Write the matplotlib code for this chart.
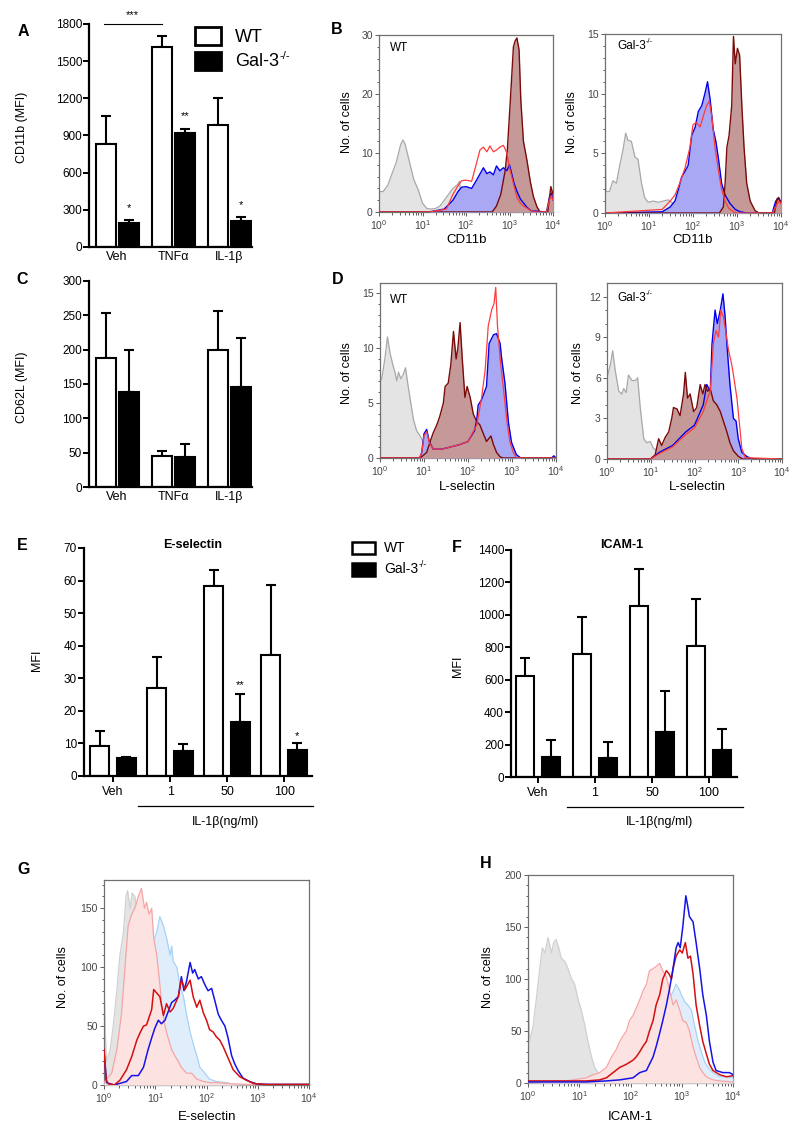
import numpy as np
import matplotlib
matplotlib.use('Agg')
import matplotlib.pyplot as plt
from matplotlib.patches import Rectangle
from matplotlib.text import Annotation
from matplotlib.ticker import LogLocator, NullFormatter

plt.rcParams['font.family'] = ['Liberation Sans', 'DejaVu Sans']
plt.rcParams['mathtext.fontset'] = 'custom'
plt.rcParams['mathtext.rm'] = 'Liberation Sans'
plt.rcParams['mathtext.it'] = 'Liberation Sans:italic'
plt.rcParams['mathtext.bf'] = 'Liberation Sans:bold'

# ---------------- bar chart data ----------------
groups_3 = ['Veh', 'TNFα', 'IL-1β']
a_wt = [830, 1617, 983]
a_wt_err = [226, 86, 216]
a_ko = [194, 921, 210]
a_ko_err = [22, 33, 32]

c_wt = [188, 45, 199]
c_wt_err = [66, 7, 58]
c_ko = [138, 44, 145]
c_ko_err = [62, 18, 72]

groups_4 = ['Veh', '1', '50', '100']
e_wt = [9.2, 27.0, 58.4, 37.1]
e_wt_err = [4.6, 9.4, 4.9, 21.5]
e_ko = [5.4, 7.7, 16.6, 8.0]
e_ko_err = [0.5, 2.0, 8.5, 2.0]

f_wt = [625, 758, 1057, 809]
f_wt_err = [110, 229, 227, 287]
f_ko = [123, 119, 279, 164]
f_ko_err = [106, 94, 253, 133]

# ---------------- histogram data (x in log10 units) ----------------
# B, WT
bwt_gray_x = [0, 0.1, 0.2, 0.3, 0.4, 0.5, 0.55, 0.6, 0.7, 0.8, 0.9, 1.0, 1.1, 1.2, 1.3, 1.4, 1.5, 1.6, 1.7, 1.8, 1.85, 1.9, 2.0, 4.0]
bwt_gray_y = [3.4, 3.5, 4.5, 6.5, 8.5, 11.5, 12.2, 11.5, 8.5, 5.5, 3.8, 1.5, 0.6, 0.5, 0.6, 1.0, 2.0, 3.0, 4.0, 4.6, 5.2, 1.5, 0.2, 0]
bwt_blue_x = [0, 1.15, 1.5, 1.7, 1.82, 1.9, 2.0, 2.13, 2.25, 2.4, 2.48, 2.55, 2.63, 2.7, 2.78, 2.86, 2.94, 3.0, 3.1, 3.17, 3.25, 3.4, 3.5, 3.85, 3.92, 3.96, 4.0]
bwt_blue_y = [0, 0, 0.5, 2.0, 3.5, 4.2, 4.3, 4.0, 5.5, 7.5, 6.5, 6.8, 6.3, 7.8, 7.0, 7.5, 7.0, 8.0, 5.0, 3.5, 2.2, 0.8, 0.2, 0, 2.5, 3.2, 2.0]
bwt_red_x = [0, 1.15, 1.55, 1.7, 1.82, 1.9, 2.0, 2.13, 2.25, 2.32, 2.4, 2.48, 2.55, 2.63, 2.7, 2.78, 2.86, 2.94, 3.0, 3.1, 3.17, 3.25, 3.32, 3.48, 3.6, 3.85, 3.92, 3.96, 4.0]
bwt_red_y = [0, 0, 0.5, 3.0, 4.5, 5.3, 5.4, 5.2, 8.5, 10.5, 11.0, 10.2, 11.2, 10.2, 10.5, 11.0, 11.3, 10.0, 7.5, 4.5, 2.5, 1.5, 1.0, 0.3, 0, 0, 2.0, 2.8, 2.0]
bwt_dark_x = [0, 2.6, 2.7, 2.8, 2.9, 2.95, 3.02, 3.09, 3.13, 3.17, 3.22, 3.26, 3.32, 3.4, 3.48, 3.55, 3.63, 3.7, 3.88, 3.95, 4.0]
bwt_dark_y = [0, 0, 1, 3, 7, 10.5, 19, 28, 29, 29.5, 27.5, 19, 12, 8.8, 5.1, 2.6, 0.9, 0, 0, 4.3, 3.0]

# B, Gal-3-/-
bko_gray_x = [0, 0.02, 0.1, 0.18, 0.26, 0.33, 0.41, 0.47, 0.52, 0.6, 0.68, 0.75, 0.83, 0.9, 0.98, 1.1, 1.21, 1.32, 1.44, 1.55, 1.67, 1.8, 4.0]
bko_gray_y = [8.6, 1.8, 1.8, 2.7, 2.5, 3.9, 5.3, 6.7, 6.1, 6.0, 4.7, 4.5, 2.5, 1.3, 0.9, 1.0, 0.9, 1.0, 1.1, 0.8, 0.2, 0, 0]
bko_blue_x = [0, 1.3, 1.48, 1.59, 1.67, 1.74, 1.82, 1.89, 1.97, 2.05, 2.12, 2.2, 2.27, 2.33, 2.39, 2.46, 2.52, 2.58, 2.65, 2.73, 2.84, 2.96, 3.07, 3.22, 3.8, 3.88, 3.95, 4.0]
bko_blue_y = [0, 0.1, 0.5, 1.0, 2.0, 3.0, 3.5, 4.0, 6.5, 7.2, 8.5, 9.0, 10.0, 11.0, 9.5, 7.0, 6.0, 4.5, 2.5, 1.5, 0.8, 0.3, 0.1, 0, 0, 1.0, 1.2, 0.9]
bko_red_x = [0, 1.3, 1.48, 1.59, 1.7, 1.82, 1.93, 2.0, 2.08, 2.16, 2.24, 2.31, 2.37, 2.43, 2.5, 2.58, 2.65, 2.73, 2.81, 2.92, 3.0, 3.8, 3.88, 3.95, 4.0]
bko_red_y = [0, 0.3, 1.0, 1.5, 2.5, 3.8, 5.5, 7.4, 7.6, 7.2, 8.2, 9.0, 9.4, 8.0, 5.5, 3.5, 2.0, 1.0, 0.4, 0.1, 0, 0, 0.5, 1.0, 0.8]
bko_dark_x = [0, 2.6, 2.69, 2.73, 2.77, 2.82, 2.88, 2.92, 2.96, 3.01, 3.06, 3.11, 3.16, 3.22, 3.3, 3.41, 3.5, 3.85, 3.91, 3.95, 4.0]
bko_dark_y = [0, 0, 0.5, 2.5, 5.5, 6.5, 9.0, 14.8, 12.5, 13.8, 13.2, 9.0, 5.5, 2.5, 1.0, 0.2, 0, 0, 1.2, 1.3, 0.8]

# D, WT
dwt_gray_x = [0, 0.04, 0.11, 0.17, 0.23, 0.29, 0.34, 0.38, 0.42, 0.47, 0.53, 0.58, 0.64, 0.7, 0.76, 0.83, 0.91, 0.98, 1.06, 1.21, 1.36, 1.52, 1.67, 1.9, 4.0]
dwt_gray_y = [7.0, 7.2, 9.0, 11.0, 9.5, 8.5, 7.8, 7.0, 7.8, 7.2, 7.6, 8.2, 6.5, 5.0, 3.5, 2.5, 2.0, 1.5, 1.0, 0.5, 0.3, 0.2, 0.1, 0, 0]
dwt_blue_x = [0, 0.9, 0.95, 1.0, 1.06, 1.12, 1.21, 1.4, 1.6, 1.8, 2.0, 2.15, 2.2, 2.23, 2.31, 2.42, 2.48, 2.58, 2.65, 2.73, 2.76, 2.84, 2.92, 2.99, 3.1, 3.2, 3.9, 3.95, 4.0]
dwt_blue_y = [0, 0, 0.5, 2.2, 2.6, 1.5, 0.8, 0.8, 1.0, 1.2, 1.5, 2.5, 3.5, 4.8, 5.3, 6.5, 10.4, 11.2, 11.3, 10.4, 9.2, 6.8, 3.2, 1.4, 0.3, 0, 0, 0.2, 0]
dwt_red_x = [0, 0.9, 0.95, 1.0, 1.06, 1.12, 1.21, 1.4, 1.6, 1.8, 2.0, 2.2, 2.31, 2.39, 2.46, 2.54, 2.59, 2.63, 2.67, 2.73, 2.8, 2.88, 2.95, 3.03, 3.1, 4.0]
dwt_red_y = [0, 0, 0.5, 2.0, 2.4, 1.4, 0.8, 0.8, 1.0, 1.2, 1.5, 3.0, 5.5, 8.0, 12.0, 13.5, 14.0, 15.5, 12.0, 9.0, 6.5, 3.5, 1.5, 0.5, 0, 0]
dwt_dark_x = [0, 0.91, 1.06, 1.14, 1.21, 1.29, 1.36, 1.44, 1.48, 1.55, 1.61, 1.67, 1.73, 1.77, 1.82, 1.87, 1.93, 1.98, 2.05, 2.12, 2.2, 2.27, 2.35, 2.42, 2.52, 2.58, 2.65, 2.73, 2.8, 4.0]
dwt_dark_y = [0, 0, 0.5, 1.5, 2.3, 3.0, 3.8, 5.0, 6.5, 6.8, 8.5, 11.5, 9.0, 10.0, 12.3, 9.0, 5.5, 6.5, 5.5, 4.0, 3.3, 3.0, 2.2, 1.5, 2.0, 1.2, 0.5, 0.1, 0, 0]

# D, Gal-3-/-
dko_gray_x = [0, 0.04, 0.08, 0.13, 0.19, 0.27, 0.34, 0.38, 0.44, 0.49, 0.57, 0.65, 0.7, 0.76, 0.84, 0.91, 0.99, 1.06, 1.18, 1.29, 1.41, 1.52, 1.67, 2.05, 2.4, 4.0]
dko_gray_y = [6.0, 6.5, 7.0, 8.0, 6.5, 5.0, 4.8, 5.2, 4.9, 6.2, 5.8, 5.8, 6.0, 3.8, 1.5, 1.2, 1.3, 0.8, 0.5, 0.7, 0.2, 0.1, 0.2, 0.1, 0, 0]
dko_dark_x = [0, 0.99, 1.1, 1.18, 1.25, 1.33, 1.41, 1.48, 1.52, 1.6, 1.67, 1.75, 1.79, 1.84, 1.9, 1.98, 2.05, 2.13, 2.19, 2.24, 2.3, 2.36, 2.43, 2.51, 2.59, 2.66, 2.74, 2.81, 2.89, 3.0, 3.1, 4.0]
dko_dark_y = [0, 0, 0.3, 1.5, 1.0, 1.6, 2.0, 3.0, 3.8, 3.7, 3.2, 4.8, 6.4, 4.5, 4.8, 3.5, 3.8, 5.5, 4.8, 5.5, 5.0, 5.2, 4.3, 4.0, 3.5, 2.8, 2.0, 1.2, 0.6, 0.2, 0, 0]
dko_blue_x = [0, 1.0, 1.2, 1.5, 1.8, 2.0, 2.2, 2.28, 2.36, 2.4, 2.47, 2.52, 2.59, 2.65, 2.7, 2.74, 2.81, 2.89, 2.95, 3.0, 3.08, 3.19, 3.31, 4.0]
dko_blue_y = [0, 0, 0.5, 1.0, 2.0, 2.5, 4.0, 5.5, 5.0, 8.5, 11.0, 10.0, 11.0, 12.2, 10.5, 8.5, 5.5, 3.0, 2.8, 1.5, 0.5, 0.2, 0, 0]
dko_red_x = [0, 1.0, 1.2, 1.5, 1.8, 2.0, 2.2, 2.3, 2.36, 2.43, 2.49, 2.55, 2.6, 2.66, 2.71, 2.78, 2.85, 2.9, 2.97, 3.03, 3.08, 3.16, 4.0]
dko_red_y = [0, 0, 0.4, 0.9, 1.8, 2.3, 3.5, 4.5, 5.0, 8.5, 9.5, 9.0, 11.0, 10.5, 9.5, 8.0, 7.0, 6.0, 4.5, 2.5, 0.8, 0.1, 0]

# G, E-selectin
g_gray_x = [0, 0.03, 0.05, 0.12, 0.18, 0.25, 0.31, 0.38, 0.43, 0.46, 0.51, 0.55, 0.6, 0.64, 0.7, 0.8, 0.9, 1.0, 1.1, 1.2, 1.4, 1.6, 4.0]
g_gray_y = [88, 40, 20, 30, 50, 80, 110, 130, 160, 165, 150, 163, 160, 150, 130, 100, 60, 30, 15, 5, 1, 0, 0]
g_pink_x = [0, 0.05, 0.15, 0.25, 0.34, 0.41, 0.47, 0.54, 0.6, 0.67, 0.73, 0.79, 0.83, 0.88, 0.93, 0.97, 1.03, 1.08, 1.12, 1.19, 1.25, 1.32, 1.38, 1.45, 1.51, 1.61, 1.71, 1.81, 1.94, 2.06, 2.2, 2.52, 2.8, 3.2, 4.0]
g_pink_y = [2, 5, 10, 30, 60, 100, 135, 145, 150, 160, 167, 150, 155, 145, 150, 125, 110, 90, 70, 50, 40, 30, 25, 20, 15, 10, 10, 5, 3, 2, 2, 1, 0.5, 0, 0]
g_lblue_x = [0, 0.3, 0.5, 0.7, 0.9, 0.96, 0.99, 1.03, 1.09, 1.16, 1.22, 1.29, 1.32, 1.35, 1.42, 1.48, 1.55, 1.61, 1.68, 1.74, 1.81, 1.87, 1.97, 2.06, 2.19, 2.39, 2.52, 2.65, 4.0]
g_lblue_y = [0, 2, 15, 50, 95, 110, 125, 130, 143, 135, 125, 110, 118, 105, 100, 85, 75, 60, 45, 35, 25, 15, 10, 5, 3, 2, 0.5, 0, 0]
g_red_x = [0, 0.04, 0.08, 0.2, 0.31, 0.44, 0.54, 0.64, 0.7, 0.77, 0.83, 0.93, 0.97, 1.03, 1.09, 1.16, 1.22, 1.29, 1.35, 1.45, 1.51, 1.58, 1.68, 1.74, 1.81, 1.87, 1.94, 2.0, 2.06, 2.13, 2.19, 2.26, 2.32, 2.42, 2.52, 2.65, 2.78, 2.91, 3.1, 4.0]
g_red_y = [30, 5, 1, 0, 4, 13, 24, 38, 44, 50, 51, 64, 81, 78, 75, 59, 69, 62, 65, 75, 89, 81, 89, 75, 66, 72, 61, 55, 47, 45, 41, 38, 33, 23, 13, 7, 4, 1.4, 0.5, 0.5]
g_blue_x = [0, 0.05, 0.2, 0.44, 0.54, 0.67, 0.77, 0.86, 0.93, 0.99, 1.06, 1.12, 1.19, 1.25, 1.32, 1.38, 1.45, 1.51, 1.56, 1.61, 1.68, 1.73, 1.77, 1.84, 1.9, 1.97, 2.03, 2.1, 2.16, 2.23, 2.29, 2.36, 2.42, 2.49, 2.55, 2.62, 2.71, 2.84, 2.97, 3.2, 4.0]
g_blue_y = [30, 2, 0, 3, 8, 8, 15, 30, 40, 48, 55, 52, 55, 62, 70, 72, 75, 92, 80, 88, 104, 95, 98, 90, 92, 85, 80, 82, 72, 60, 55, 50, 40, 25, 18, 12, 6, 3, 1, 0.5, 0.5]

# H, ICAM-1
h_gray_x = [0, 0.03, 0.1, 0.16, 0.23, 0.28, 0.33, 0.39, 0.46, 0.5, 0.55, 0.6, 0.65, 0.72, 0.78, 0.85, 0.91, 0.98, 1.04, 1.11, 1.17, 1.24, 1.3, 1.37, 1.46, 1.59, 1.72, 2.0, 4.0]
h_gray_y = [145, 40, 55, 80, 110, 130, 125, 140, 125, 135, 138, 130, 120, 117, 110, 100, 95, 80, 70, 55, 40, 25, 15, 10, 5, 2, 1, 0, 0]
h_pink_x = [0, 0.75, 1.14, 1.27, 1.4, 1.53, 1.63, 1.72, 1.79, 1.85, 1.92, 1.98, 2.05, 2.11, 2.18, 2.24, 2.31, 2.37, 2.44, 2.5, 2.57, 2.63, 2.7, 2.76, 2.83, 2.89, 2.96, 3.02, 3.09, 3.15, 3.22, 3.28, 3.35, 3.41, 3.48, 3.61, 3.74, 4.0]
h_pink_y = [1, 2, 5, 8, 10, 15, 25, 32, 40, 45, 50, 60, 65, 72, 80, 88, 95, 108, 110, 112, 115, 108, 102, 90, 75, 80, 70, 60, 58, 50, 35, 25, 15, 10, 6, 3, 2, 1]
h_lblue_x = [0, 2.0, 2.44, 2.63, 2.76, 2.83, 2.89, 2.95, 2.99, 3.06, 3.12, 3.19, 3.25, 3.32, 3.38, 3.45, 3.51, 3.61, 3.74, 3.87, 4.0]
h_lblue_y = [0, 3, 20, 50, 80, 88, 95, 90, 85, 78, 75, 70, 55, 40, 30, 20, 15, 10, 6, 6, 5]
h_red_x = [0, 0.75, 1.14, 1.4, 1.53, 1.66, 1.79, 1.92, 2.05, 2.11, 2.18, 2.24, 2.31, 2.37, 2.44, 2.5, 2.57, 2.63, 2.7, 2.75, 2.8, 2.83, 2.89, 2.96, 3.01, 3.07, 3.12, 3.17, 3.22, 3.28, 3.35, 3.41, 3.48, 3.54, 3.61, 3.74, 3.87, 4.0]
h_red_y = [2, 2, 2, 3, 5, 10, 15, 18, 22, 25, 30, 35, 40, 50, 60, 75, 85, 100, 108, 105, 100, 110, 122, 128, 125, 135, 120, 122, 105, 75, 55, 40, 28, 18, 12, 8, 6, 7]
h_blue_x = [0, 1.14, 1.53, 1.79, 2.05, 2.18, 2.31, 2.37, 2.44, 2.5, 2.57, 2.63, 2.7, 2.76, 2.83, 2.89, 2.93, 2.97, 3.02, 3.06, 3.08, 3.11, 3.15, 3.22, 3.28, 3.35, 3.41, 3.48, 3.54, 3.61, 3.67, 3.8, 3.93, 4.0]
h_blue_y = [1, 1, 2, 3, 5, 10, 12, 18, 25, 35, 48, 60, 75, 90, 110, 130, 135, 130, 150, 170, 180, 172, 160, 155, 135, 110, 85, 65, 40, 20, 12, 10, 10, 8]

# ---------------- colours ----------------
GRAY_F, GRAY_E = '#e4e4e4', '#a8a8a8'
BLUE_F, BLUE_E = '#a8a8f4', '#0000ee'
DARK_F, DARK_E = '#c69999', '#7a0a0a'
RED_E = '#ff3b3b'
PINK_F, PINK_E = '#fde2e2', '#f6a5a5'
LBLUE_F, LBLUE_E = '#e0eefc', '#a9d2f6'
RED2, BLUE2 = '#d40f0f', '#1414e6'

W, H = 800, 1138
fig = plt.figure(figsize=(8, 11.38), dpi=100)


def px_axes(x0, y0, x1, y1):
    return fig.add_axes([x0 / W, 1 - y1 / H, (x1 - x0) / W, (y1 - y0) / H])


def ftext(x, y, s, **kw):
    return fig.text(x / W, 1 - y / H, s, **kw)


def gal_label(x, y, size):
    # "Gal-3" with a small raised "-/-", drawn at figure level so no axes covers it
    t = ftext(x, y, 'Gal-3', fontsize=size, va='center', zorder=10)
    sup = Annotation('-/-', xy=(1.0, 0.85), xycoords=t, fontsize=size * 0.62,
                     ha='left', va='center', zorder=10)
    fig.add_artist(sup)
    return t


def bar_panel(rect, groups, wt, wt_err, ko, ko_err, width, off, xlim, ylim, yticks, xticks_on):
    ax = px_axes(*rect)
    x = np.arange(len(groups))
    ax.bar(x - off, wt, width, color='white', edgecolor='black', linewidth=1.5, zorder=2)
    ax.bar(x + off, ko, width, color='black', edgecolor='black', linewidth=1.5, zorder=2)
    ax.errorbar(x - off, wt, yerr=[np.zeros(len(wt)), wt_err], fmt='none', ecolor='black',
                elinewidth=1.5, capsize=3.6, capthick=1.5, zorder=1)
    ax.errorbar(x + off, ko, yerr=[np.zeros(len(ko)), ko_err], fmt='none', ecolor='black',
                elinewidth=1.5, capsize=3.6, capthick=1.5, zorder=1)
    ax.set_xlim(*xlim)
    ax.set_ylim(*ylim)
    ax.set_yticks(yticks)
    ax.set_xticks(x)
    ax.set_xticklabels(groups, fontsize=9)
    ax.tick_params(axis='y', labelsize=8.5, length=4, width=1.4, pad=1)
    ax.tick_params(axis='x', length=4 if xticks_on else 0, width=1.4, pad=3)
    for s in ['top', 'right']:
        ax.spines[s].set_visible(False)
    for s in ['left', 'bottom']:
        ax.spines[s].set_linewidth(1.6)
    ax.patch.set_alpha(0)
    return ax


def hist_ax(rect, ymax, major, minor):
    ax = px_axes(*rect)
    ax.set_xscale('log')
    ax.set_xlim(1, 1e4)
    ax.set_ylim(0, ymax)
    ax.set_xticks([1, 10, 100, 1000, 10000])
    ax.xaxis.set_minor_locator(LogLocator(base=10, subs=range(2, 10)))
    ax.xaxis.set_minor_formatter(NullFormatter())
    ax.set_yticks(major)
    ax.set_yticks(minor, minor=True)
    ax.tick_params(which='both', direction='out', colors='#444444', labelsize=7.5, width=0.6, pad=1.5)
    ax.tick_params(which='major', length=3)
    ax.tick_params(which='minor', length=1.8)
    for s in ax.spines.values():
        s.set_color('#707070')
        s.set_linewidth(0.9)
    return ax


def fill(ax, xs, ys, fc, z):
    ax.fill_between(10 ** np.array(xs), ys, color=fc, linewidth=0, zorder=z)


def line(ax, xs, ys, c, z, lw=1.0):
    ax.plot(10 ** np.array(xs), ys, color=c, linewidth=lw, zorder=z)


def flow_panel(ax, gx, gy, bx, by, rx, ry, dx, dy):
    fill(ax, gx, gy, GRAY_F, 1)
    line(ax, gx, gy, GRAY_E, 2, 0.9)
    fill(ax, bx, by, BLUE_F, 3)
    fill(ax, dx, dy, DARK_F, 4)
    line(ax, bx, by, BLUE_E, 5)
    line(ax, dx, dy, DARK_E, 6)
    line(ax, rx, ry, RED_E, 7, 0.9)


# ---------------- A ----------------
axA = bar_panel((89, 24, 252, 247), groups_3, a_wt, a_wt_err, a_ko, a_ko_err,
                0.357, 0.205, (-0.5, 2.4), (0, 1800), range(0, 1801, 300), False)
for i, s in [(0, '*'), (1, '**'), (2, '*')]:
    axA.text(i + 0.205, a_ko[i] + a_ko_err[i] + 60, s, ha='center', va='bottom', fontsize=8)
axA.plot([-0.23, 0.79], [1800, 1800], color='black', lw=0.8, clip_on=False)
axA.text(0.28, 1830, '***', ha='center', va='bottom', fontsize=8)
ftext(22, 127, 'CD11b (MFI)', rotation=90, ha='center', va='center', fontsize=9)

fig.add_artist(Rectangle((195 / W, 1 - 45 / H), 26 / W, 18 / H, transform=fig.transFigure,
                         facecolor='white', edgecolor='black', linewidth=2))
fig.add_artist(Rectangle((195 / W, 1 - 70 / H), 26 / W, 18 / H, transform=fig.transFigure,
                         facecolor='black', edgecolor='black', linewidth=2))
ftext(235, 37, 'WT', fontsize=13, va='center')
gal_label(235, 62, 13)

# ---------------- C ----------------
axC = bar_panel((89, 281, 252, 487), groups_3, c_wt, c_wt_err, c_ko, c_ko_err,
                0.357, 0.205, (-0.5, 2.4), (0, 300), range(0, 301, 50), False)
ftext(22, 387, 'CD62L (MFI)', rotation=90, ha='center', va='center', fontsize=9)

# ---------------- E ----------------
axE = bar_panel((84, 548, 312, 776), groups_4, e_wt, e_wt_err, e_ko, e_ko_err,
                0.333, 0.232, (-0.51, 3.49), (0, 70), range(0, 71, 10), True)
axE.text(2.232, e_ko[2] + e_ko_err[2] + 1.2, '**', ha='center', va='bottom', fontsize=8)
axE.text(3.232, e_ko[3] + e_ko_err[3] + 0.8, '*', ha='center', va='bottom', fontsize=8)
axE.plot([0.44, 3.5], [-0.132, -0.132], color='black', lw=0.9, clip_on=False,
         transform=axE.get_xaxis_transform())
axE.text(1.97, -0.175, 'IL-1β(ng/ml)', ha='center', va='top', fontsize=9,
         transform=axE.get_xaxis_transform())
ftext(193, 545, 'E-selectin', ha='center', va='center', fontsize=9, fontweight='bold')
ftext(37, 660, 'MFI', rotation=90, ha='center', va='center', fontsize=9)

# ---------------- F ----------------
axF = bar_panel((511, 550, 737, 777), groups_4, f_wt, f_wt_err, f_ko, f_ko_err,
                0.32, 0.228, (-0.47, 3.49), (0, 1400), range(0, 1401, 200), True)
axF.plot([0.51, 3.6], [-0.13, -0.13], color='black', lw=0.9, clip_on=False,
         transform=axF.get_xaxis_transform())
axF.text(2.14, -0.172, 'IL-1β(ng/ml)', ha='center', va='top', fontsize=9,
         transform=axF.get_xaxis_transform())
ftext(622, 545, 'ICAM-1', ha='center', va='center', fontsize=9, fontweight='bold')
ftext(458, 666, 'MFI', rotation=90, ha='center', va='center', fontsize=9)

# E/F legend
fig.add_artist(Rectangle((352 / W, 1 - 554 / H), 23 / W, 12 / H, transform=fig.transFigure,
                         facecolor='white', edgecolor='black', linewidth=1.8))
fig.add_artist(Rectangle((352 / W, 1 - 576 / H), 23 / W, 13 / H, transform=fig.transFigure,
                         facecolor='black', edgecolor='black', linewidth=1.8))
ftext(384, 548, 'WT', fontsize=10, va='center')
gal_label(384, 569, 10)

# ---------------- B ----------------
axB1 = hist_ax((379, 35, 553, 212), 30, [0, 10, 20, 30], np.arange(0, 31, 2))
flow_panel(axB1, bwt_gray_x, bwt_gray_y, bwt_blue_x, bwt_blue_y, bwt_red_x, bwt_red_y, bwt_dark_x, bwt_dark_y)
ftext(390, 48, 'WT', fontsize=8.5, va='center', zorder=10)

axB2 = hist_ax((605, 34, 781, 213), 15, [0, 5, 10, 15], np.arange(0, 16, 1))
flow_panel(axB2, bko_gray_x, bko_gray_y, bko_blue_x, bko_blue_y, bko_red_x, bko_red_y, bko_dark_x, bko_dark_y)
gal_label(617, 46, 8.5)

ftext(347, 122, 'No. of cells', rotation=90, ha='center', va='center', fontsize=9)
ftext(572, 122, 'No. of cells', rotation=90, ha='center', va='center', fontsize=9)
ftext(467, 240, 'CD11b', ha='center', va='center', fontsize=9.5)
ftext(693, 240, 'CD11b', ha='center', va='center', fontsize=9.5)

# ---------------- D ----------------
axD1 = hist_ax((380, 283, 556, 458), 15.9, [0, 5, 10, 15], np.arange(0, 16, 1))
flow_panel(axD1, dwt_gray_x, dwt_gray_y, dwt_blue_x, dwt_blue_y, dwt_red_x, dwt_red_y, dwt_dark_x, dwt_dark_y)
ftext(390, 300, 'WT', fontsize=8.5, va='center', zorder=10)

axD2 = hist_ax((607, 283, 782, 459), 13, [0, 3, 6, 9, 12], np.arange(0, 13, 1))
flow_panel(axD2, dko_gray_x, dko_gray_y, dko_blue_x, dko_blue_y, dko_red_x, dko_red_y, dko_dark_x, dko_dark_y)
gal_label(617, 298, 8.5)

ftext(347, 373, 'No. of cells', rotation=90, ha='center', va='center', fontsize=9)
ftext(578, 373, 'No. of cells', rotation=90, ha='center', va='center', fontsize=9)
ftext(467, 487, 'L-selectin', ha='center', va='center', fontsize=9.5)
ftext(697, 487, 'L-selectin', ha='center', va='center', fontsize=9.5)

# ---------------- G ----------------
axG = hist_ax((104, 880, 309, 1085), 174, [0, 50, 100, 150], np.arange(0, 171, 10))
fill(axG, g_gray_x, g_gray_y, GRAY_F, 1)
line(axG, g_gray_x, g_gray_y, '#d0d0d0', 2, 0.9)
fill(axG, g_lblue_x, g_lblue_y, LBLUE_F, 3)
line(axG, g_lblue_x, g_lblue_y, LBLUE_E, 4, 0.9)
fill(axG, g_pink_x, g_pink_y, PINK_F, 5)
line(axG, g_pink_x, g_pink_y, PINK_E, 6, 0.9)
line(axG, g_blue_x, g_blue_y, BLUE2, 7, 1.1)
line(axG, g_red_x, g_red_y, RED2, 8, 1.1)
ftext(63, 977, 'No. of cells', rotation=90, ha='center', va='center', fontsize=9)
ftext(207, 1117, 'E-selectin', ha='center', va='center', fontsize=9.5)

# ---------------- H ----------------
axH = hist_ax((528, 875, 733, 1083), 200, [0, 50, 100, 150, 200], np.arange(0, 201, 10))
fill(axH, h_gray_x, h_gray_y, GRAY_F, 1)
line(axH, h_gray_x, h_gray_y, '#d0d0d0', 2, 0.9)
fill(axH, h_lblue_x, h_lblue_y, LBLUE_F, 3)
line(axH, h_lblue_x, h_lblue_y, LBLUE_E, 4, 0.9)
fill(axH, h_pink_x, h_pink_y, PINK_F, 5)
line(axH, h_pink_x, h_pink_y, PINK_E, 6, 0.9)
line(axH, h_red_x, h_red_y, RED2, 7, 1.1)
line(axH, h_blue_x, h_blue_y, BLUE2, 8, 1.1)
ftext(488, 977, 'No. of cells', rotation=90, ha='center', va='center', fontsize=9)
ftext(630, 1117, 'ICAM-1', ha='center', va='center', fontsize=9.5)

# panel letters
for lab, x, y in [('A', 23, 32), ('B', 337, 29), ('C', 22, 279), ('D', 338, 280),
                  ('E', 22, 546), ('F', 457, 547), ('G', 24, 869), ('H', 486, 863)]:
    ftext(x, y, lab, fontsize=11.5, fontweight='bold', ha='center', va='center')

fig.savefig('out.png', dpi=100)
